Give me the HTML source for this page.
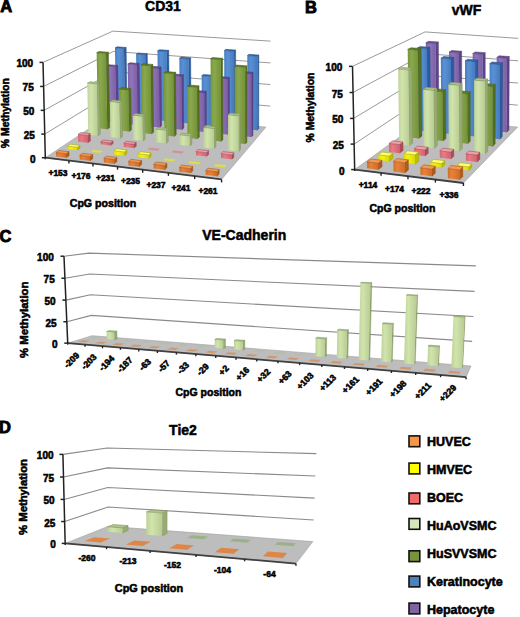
<!DOCTYPE html><html><head><meta charset="utf-8"><style>html,body{margin:0;padding:0;background:#fff;width:520px;height:617px;overflow:hidden}svg{display:block}</style></head><body><svg width="520" height="617" viewBox="0 0 520 617" font-family="'Liberation Sans', sans-serif">
<style>text{stroke:#000;stroke-width:0.55px}</style><defs><linearGradient id="g_or" x1="0" y1="0" x2="1" y2="0"><stop offset="0" stop-color="#D46F27"/><stop offset="0.35" stop-color="#E7823B"/><stop offset="1" stop-color="#CE6C25"/></linearGradient><linearGradient id="g_ye" x1="0" y1="0" x2="1" y2="0"><stop offset="0" stop-color="#E1E100"/><stop offset="0.35" stop-color="#F3F314"/><stop offset="1" stop-color="#D9D900"/></linearGradient><linearGradient id="g_pk" x1="0" y1="0" x2="1" y2="0"><stop offset="0" stop-color="#D76771"/><stop offset="0.35" stop-color="#E97A84"/><stop offset="1" stop-color="#D0636D"/></linearGradient><linearGradient id="g_lg" x1="0" y1="0" x2="1" y2="0"><stop offset="0" stop-color="#BDD298"/><stop offset="0.35" stop-color="#D0E4AB"/><stop offset="1" stop-color="#B7CB93"/></linearGradient><linearGradient id="g_gr" x1="0" y1="0" x2="1" y2="0"><stop offset="0" stop-color="#779639"/><stop offset="0.35" stop-color="#8AA94D"/><stop offset="1" stop-color="#739137"/></linearGradient><linearGradient id="g_bl" x1="0" y1="0" x2="1" y2="0"><stop offset="0" stop-color="#467EC3"/><stop offset="0.35" stop-color="#5A91D5"/><stop offset="1" stop-color="#447ABD"/></linearGradient><linearGradient id="g_pu" x1="0" y1="0" x2="1" y2="0"><stop offset="0" stop-color="#7D61A9"/><stop offset="0.35" stop-color="#9075BB"/><stop offset="1" stop-color="#795EA3"/></linearGradient></defs>
<rect width="520" height="617" fill="#fff"/>
<polyline points="44.78,134.10 113.88,91.96 270.28,106.10" fill="none" stroke="#9a9a9a" stroke-width="1.0"/>
<polyline points="44.20,110.34 113.56,71.78 270.36,84.56" fill="none" stroke="#9a9a9a" stroke-width="1.0"/>
<polyline points="43.61,86.44 113.24,51.49 270.43,62.91" fill="none" stroke="#9a9a9a" stroke-width="1.0"/>
<polyline points="43.02,62.40 112.91,31.11 270.51,41.14" fill="none" stroke="#9a9a9a" stroke-width="1.0"/>
<polygon points="45.36,157.71 221.58,179.41 266.03,127.11 114.20,112.04" fill="#BDBDBD" stroke="#a0a0a0" stroke-width="0.6"/>
<polyline points="45.36,157.71 221.58,179.41" fill="none" stroke="#404040" stroke-width="1.8"/>
<line x1="68.92" y1="160.61" x2="68.92" y2="163.61" stroke="#222" stroke-width="1.4"/>
<line x1="92.98" y1="163.58" x2="92.98" y2="166.58" stroke="#222" stroke-width="1.4"/>
<line x1="117.58" y1="166.60" x2="117.58" y2="169.60" stroke="#222" stroke-width="1.4"/>
<line x1="142.71" y1="169.70" x2="142.71" y2="172.70" stroke="#222" stroke-width="1.4"/>
<line x1="168.41" y1="172.86" x2="168.41" y2="175.86" stroke="#222" stroke-width="1.4"/>
<line x1="194.69" y1="176.10" x2="194.69" y2="179.10" stroke="#222" stroke-width="1.4"/>
<line x1="221.58" y1="179.41" x2="221.58" y2="182.41" stroke="#222" stroke-width="1.4"/>
<polygon points="124.97,116.92 127.15,115.40 126.19,47.42 123.98,48.54" fill="#2D5C9E" stroke="#24497E" stroke-width="0.4"/>
<polygon points="116.05,116.02 124.97,116.92 123.98,48.54 114.99,47.90" fill="url(#g_bl)"/>
<polygon points="114.99,47.90 123.98,48.54 126.19,47.42 117.24,46.79" fill="#3466A8" stroke="#264E86" stroke-width="0.5"/>
<polygon points="146.00,119.05 148.08,117.50 147.34,53.65 145.24,54.82" fill="#2D5C9E" stroke="#24497E" stroke-width="0.4"/>
<polygon points="136.92,118.13 146.00,119.05 145.24,54.82 136.09,54.15" fill="url(#g_bl)"/>
<polygon points="136.09,54.15 145.24,54.82 147.34,53.65 138.23,52.99" fill="#3466A8" stroke="#264E86" stroke-width="0.5"/>
<polygon points="167.43,121.21 169.39,119.63 168.77,50.33 166.78,51.50" fill="#2D5C9E" stroke="#24497E" stroke-width="0.4"/>
<polygon points="158.18,120.27 167.43,121.21 166.78,51.50 157.46,50.83" fill="url(#g_bl)"/>
<polygon points="157.46,50.83 166.78,51.50 168.77,50.33 159.49,49.68" fill="#3466A8" stroke="#264E86" stroke-width="0.5"/>
<polygon points="189.25,123.41 191.10,121.81 190.70,57.81 188.83,59.03" fill="#2D5C9E" stroke="#24497E" stroke-width="0.4"/>
<polygon points="179.83,122.46 189.25,123.41 188.83,59.03 179.33,58.33" fill="url(#g_bl)"/>
<polygon points="179.33,58.33 188.83,59.03 190.70,57.81 181.25,57.12" fill="#3466A8" stroke="#264E86" stroke-width="0.5"/>
<polygon points="211.49,125.66 213.22,124.03 213.05,75.15 211.31,76.49" fill="#2D5C9E" stroke="#24497E" stroke-width="0.4"/>
<polygon points="201.89,124.69 211.49,125.66 211.31,76.49 201.65,75.71" fill="url(#g_bl)"/>
<polygon points="201.65,75.71 211.31,76.49 213.05,75.15 203.44,74.39" fill="#3466A8" stroke="#264E86" stroke-width="0.5"/>
<polygon points="234.16,127.94 235.76,126.28 235.71,50.03 234.09,51.22" fill="#2D5C9E" stroke="#24497E" stroke-width="0.4"/>
<polygon points="224.37,126.96 234.16,127.94 234.09,51.22 224.21,50.54" fill="url(#g_bl)"/>
<polygon points="224.21,50.54 234.09,51.22 235.71,50.03 225.88,49.36" fill="#3466A8" stroke="#264E86" stroke-width="0.5"/>
<polygon points="257.26,130.28 258.74,128.58 258.89,55.02 257.41,56.26" fill="#2D5C9E" stroke="#24497E" stroke-width="0.4"/>
<polygon points="247.28,129.27 257.26,130.28 257.41,56.26 247.34,55.55" fill="url(#g_bl)"/>
<polygon points="247.34,55.55 257.41,56.26 258.89,55.02 248.88,54.32" fill="#3466A8" stroke="#264E86" stroke-width="0.5"/>
<polygon points="116.33,122.94 118.61,121.35 117.76,65.39 115.45,66.65" fill="#5E4489" stroke="#4B366D" stroke-width="0.4"/>
<polygon points="107.24,121.99 116.33,122.94 115.45,66.65 106.30,65.93" fill="url(#g_pu)"/>
<polygon points="106.30,65.93 115.45,66.65 117.76,65.39 108.65,64.68" fill="#664C94" stroke="#4F3974" stroke-width="0.5"/>
<polygon points="137.78,125.17 139.95,123.55 139.19,63.42 137.00,64.68" fill="#5E4489" stroke="#4B366D" stroke-width="0.4"/>
<polygon points="128.52,124.21 137.78,125.17 137.00,64.68 127.67,63.96" fill="url(#g_pu)"/>
<polygon points="127.67,63.96 137.00,64.68 139.19,63.42 129.91,62.71" fill="#664C94" stroke="#4F3974" stroke-width="0.5"/>
<polygon points="159.64,127.44 161.70,125.79 161.11,67.00 159.03,68.29" fill="#5E4489" stroke="#4B366D" stroke-width="0.4"/>
<polygon points="150.20,126.46 159.64,127.44 159.03,68.29 149.53,67.55" fill="url(#g_pu)"/>
<polygon points="149.53,67.55 159.03,68.29 161.11,67.00 151.66,66.26" fill="#664C94" stroke="#4F3974" stroke-width="0.5"/>
<polygon points="181.92,129.76 183.86,128.08 183.48,74.80 181.52,76.15" fill="#5E4489" stroke="#4B366D" stroke-width="0.4"/>
<polygon points="172.30,128.76 181.92,129.76 181.52,76.15 171.84,75.37" fill="url(#g_pu)"/>
<polygon points="171.84,75.37 181.52,76.15 183.48,74.80 173.84,74.02" fill="#664C94" stroke="#4F3974" stroke-width="0.5"/>
<polygon points="204.63,132.12 206.45,130.41 206.28,91.36 204.45,92.83" fill="#5E4489" stroke="#4B366D" stroke-width="0.4"/>
<polygon points="194.82,131.10 204.63,132.12 204.45,92.83 194.59,91.97" fill="url(#g_pu)"/>
<polygon points="194.59,91.97 204.45,92.83 206.28,91.36 196.47,90.51" fill="#664C94" stroke="#4F3974" stroke-width="0.5"/>
<polygon points="227.79,134.53 229.47,132.79 229.39,77.34 227.69,78.74" fill="#5E4489" stroke="#4B366D" stroke-width="0.4"/>
<polygon points="217.79,133.49 227.79,134.53 227.69,78.74 217.62,77.93" fill="url(#g_pu)"/>
<polygon points="217.62,77.93 227.69,78.74 229.39,77.34 219.38,76.54" fill="#664C94" stroke="#4F3974" stroke-width="0.5"/>
<polygon points="251.41,136.98 252.96,135.21 253.05,72.28 251.48,73.66" fill="#5E4489" stroke="#4B366D" stroke-width="0.4"/>
<polygon points="241.21,135.92 251.41,136.98 251.48,73.66 241.20,72.86" fill="url(#g_pu)"/>
<polygon points="241.20,72.86 251.48,73.66 253.05,72.28 242.82,71.49" fill="#664C94" stroke="#4F3974" stroke-width="0.5"/>
<polygon points="107.27,129.25 109.67,127.58 108.43,52.17 106.00,53.38" fill="#546F20" stroke="#435819" stroke-width="0.4"/>
<polygon points="98.00,128.25 107.27,129.25 106.00,53.38 96.65,52.69" fill="url(#g_gr)"/>
<polygon points="96.65,52.69 106.00,53.38 108.43,52.17 99.12,51.49" fill="#5F7D28" stroke="#475E1B" stroke-width="0.5"/>
<polygon points="129.15,131.59 131.44,129.89 130.87,88.42 128.57,89.87" fill="#546F20" stroke="#435819" stroke-width="0.4"/>
<polygon points="119.70,130.58 129.15,131.59 128.57,89.87 119.07,89.02" fill="url(#g_gr)"/>
<polygon points="119.07,89.02 128.57,89.87 130.87,88.42 121.42,87.59" fill="#5F7D28" stroke="#475E1B" stroke-width="0.5"/>
<polygon points="151.47,133.98 153.63,132.25 152.89,64.41 150.70,65.72" fill="#546F20" stroke="#435819" stroke-width="0.4"/>
<polygon points="141.83,132.95 151.47,133.98 150.70,65.72 140.99,64.96" fill="url(#g_gr)"/>
<polygon points="140.99,64.96 150.70,65.72 152.89,64.41 143.22,63.66" fill="#5F7D28" stroke="#475E1B" stroke-width="0.5"/>
<polygon points="174.22,136.42 176.26,134.66 175.75,72.29 173.69,73.67" fill="#546F20" stroke="#435819" stroke-width="0.4"/>
<polygon points="164.39,135.37 174.22,136.42 173.69,73.67 163.79,72.87" fill="url(#g_gr)"/>
<polygon points="163.79,72.87 173.69,73.67 175.75,72.29 165.90,71.51" fill="#5F7D28" stroke="#475E1B" stroke-width="0.5"/>
<polygon points="197.43,138.91 199.33,137.11 199.06,85.87 197.14,87.34" fill="#546F20" stroke="#435819" stroke-width="0.4"/>
<polygon points="187.40,137.84 197.43,138.91 197.14,87.34 187.06,86.48" fill="url(#g_gr)"/>
<polygon points="187.06,86.48 197.14,87.34 199.06,85.87 189.03,85.02" fill="#5F7D28" stroke="#475E1B" stroke-width="0.5"/>
<polygon points="221.10,141.45 222.87,139.62 222.68,58.25 220.89,59.56" fill="#546F20" stroke="#435819" stroke-width="0.4"/>
<polygon points="210.87,140.35 221.10,141.45 220.89,59.56 210.56,58.81" fill="url(#g_gr)"/>
<polygon points="210.56,58.81 220.89,59.56 222.68,58.25 212.41,57.51" fill="#5F7D28" stroke="#475E1B" stroke-width="0.5"/>
<polygon points="245.25,144.04 246.88,142.17 246.93,65.87 245.29,67.25" fill="#546F20" stroke="#435819" stroke-width="0.4"/>
<polygon points="234.82,142.92 245.25,144.04 245.29,67.25 234.75,66.45" fill="url(#g_gr)"/>
<polygon points="234.75,66.45 245.29,67.25 246.93,65.87 236.46,65.09" fill="#5F7D28" stroke="#475E1B" stroke-width="0.5"/>
<polygon points="97.76,135.87 100.28,134.12 99.37,82.54 96.83,83.97" fill="#97AC72" stroke="#78895B" stroke-width="0.4"/>
<polygon points="88.30,134.82 97.76,135.87 96.83,83.97 87.31,83.14" fill="url(#g_lg)"/>
<polygon points="87.31,83.14 96.83,83.97 99.37,82.54 89.90,81.72" fill="#ACC28A" stroke="#809260" stroke-width="0.5"/>
<polygon points="120.10,138.34 122.50,136.55 121.97,100.82 119.56,102.38" fill="#97AC72" stroke="#78895B" stroke-width="0.4"/>
<polygon points="110.45,137.27 120.10,138.34 119.56,102.38 109.87,101.46" fill="url(#g_lg)"/>
<polygon points="109.87,101.46 119.56,102.38 121.97,100.82 112.33,99.91" fill="#ACC28A" stroke="#809260" stroke-width="0.5"/>
<polygon points="142.88,140.86 145.16,139.04 144.86,114.49 142.58,116.15" fill="#97AC72" stroke="#78895B" stroke-width="0.4"/>
<polygon points="133.04,139.77 142.88,140.86 142.58,116.15 132.71,115.16" fill="url(#g_lg)"/>
<polygon points="132.71,115.16 142.58,116.15 144.86,114.49 135.05,113.51" fill="#ACC28A" stroke="#809260" stroke-width="0.5"/>
<polygon points="166.13,143.43 168.27,141.57 168.15,128.48 166.01,130.25" fill="#97AC72" stroke="#78895B" stroke-width="0.4"/>
<polygon points="156.09,142.32 166.13,143.43 166.01,130.25 155.95,129.19" fill="url(#g_lg)"/>
<polygon points="155.95,129.19 166.01,130.25 168.15,128.48 158.15,127.44" fill="#ACC28A" stroke="#809260" stroke-width="0.5"/>
<polygon points="189.85,146.05 191.86,144.16 191.79,134.11 189.79,135.94" fill="#97AC72" stroke="#78895B" stroke-width="0.4"/>
<polygon points="179.60,144.92 189.85,146.05 189.79,135.94 179.53,134.84" fill="url(#g_lg)"/>
<polygon points="179.53,134.84 189.79,135.94 191.79,134.11 181.59,133.03" fill="#ACC28A" stroke="#809260" stroke-width="0.5"/>
<polygon points="214.06,148.73 215.93,146.80 215.86,126.75 213.99,128.55" fill="#97AC72" stroke="#78895B" stroke-width="0.4"/>
<polygon points="203.60,147.57 214.06,148.73 213.99,128.55 203.51,127.48" fill="url(#g_lg)"/>
<polygon points="203.51,127.48 213.99,128.55 215.86,126.75 205.44,125.69" fill="#ACC28A" stroke="#809260" stroke-width="0.5"/>
<polygon points="238.78,151.46 240.49,149.49 240.49,114.01 238.76,115.74" fill="#97AC72" stroke="#78895B" stroke-width="0.4"/>
<polygon points="228.10,150.28 238.78,151.46 238.76,115.74 228.04,114.72" fill="url(#g_lg)"/>
<polygon points="228.04,114.72 238.76,115.74 240.49,114.01 229.83,113.00" fill="#ACC28A" stroke="#809260" stroke-width="0.5"/>
<polygon points="87.77,142.82 90.42,140.98 90.28,133.67 87.63,135.46" fill="#B04C58" stroke="#8C3C46" stroke-width="0.4"/>
<polygon points="78.12,141.72 87.77,142.82 87.63,135.46 77.97,134.39" fill="url(#g_pk)"/>
<polygon points="77.97,134.39 87.63,135.46 90.28,133.67 80.67,132.61" fill="#F2A0A8" stroke="#95404A" stroke-width="0.5"/>
<polygon points="110.58,145.43 113.10,143.55 113.06,141.03 110.54,142.89" fill="#B04C58" stroke="#8C3C46" stroke-width="0.4"/>
<polygon points="100.73,144.30 110.58,145.43 110.54,142.89 100.68,141.78" fill="url(#g_pk)"/>
<polygon points="100.68,141.78 110.54,142.89 113.06,141.03 103.26,139.93" fill="#F2A0A8" stroke="#95404A" stroke-width="0.5"/>
<polygon points="133.86,148.08 136.25,146.17 136.20,142.44 133.81,144.33" fill="#B04C58" stroke="#8C3C46" stroke-width="0.4"/>
<polygon points="123.80,146.94 133.86,148.08 133.81,144.33 123.75,143.20" fill="url(#g_pk)"/>
<polygon points="123.75,143.20 133.81,144.33 136.20,142.44 126.20,141.33" fill="#F2A0A8" stroke="#95404A" stroke-width="0.5"/>
<polygon points="147.35,149.62 157.62,150.80 159.87,148.84 149.67,147.69" fill="#E86F7A" opacity="0.6"/>
<polygon points="171.39,152.37 181.87,153.57 183.99,151.57 173.57,150.39" fill="#E86F7A" opacity="0.6"/>
<polygon points="206.65,156.39 208.61,154.36 208.60,150.71 206.63,152.71" fill="#B04C58" stroke="#8C3C46" stroke-width="0.4"/>
<polygon points="195.94,155.17 206.65,156.39 206.63,152.71 195.92,151.51" fill="url(#g_pk)"/>
<polygon points="195.92,151.51 206.63,152.71 208.60,150.71 197.95,149.52" fill="#F2A0A8" stroke="#95404A" stroke-width="0.5"/>
<polygon points="231.95,159.28 233.76,157.21 233.75,152.85 231.94,154.90" fill="#B04C58" stroke="#8C3C46" stroke-width="0.4"/>
<polygon points="221.01,158.03 231.95,159.28 231.94,154.90 221.00,153.67" fill="url(#g_pk)"/>
<polygon points="221.00,153.67 231.94,154.90 233.75,152.85 222.88,151.64" fill="#F2A0A8" stroke="#95404A" stroke-width="0.5"/>
<polygon points="77.26,150.14 80.05,148.20 79.99,145.37 77.21,147.29" fill="#BDBD00" stroke="#979700" stroke-width="0.4"/>
<polygon points="67.40,148.98 77.26,150.14 77.21,147.29 67.34,146.14" fill="url(#g_ye)"/>
<polygon points="67.34,146.14 77.21,147.29 79.99,145.37 70.18,144.23" fill="#FFFF70" stroke="#A0A000" stroke-width="0.5"/>
<polygon points="90.50,151.70 100.56,152.89 103.22,150.91 93.21,149.74" fill="#F2F200" opacity="0.6"/>
<polygon points="124.35,155.70 126.87,153.68 126.82,149.95 124.30,151.94" fill="#BDBD00" stroke="#979700" stroke-width="0.4"/>
<polygon points="114.07,154.48 124.35,155.70 124.30,151.94 114.01,150.75" fill="url(#g_ye)"/>
<polygon points="114.01,150.75 124.30,151.94 126.82,149.95 116.59,148.77" fill="#FFFF70" stroke="#A0A000" stroke-width="0.5"/>
<polygon points="148.65,158.56 151.02,156.50 150.98,152.92 148.61,154.96" fill="#BDBD00" stroke="#979700" stroke-width="0.4"/>
<polygon points="138.15,157.32 148.65,158.56 148.61,154.96 138.10,153.74" fill="url(#g_ye)"/>
<polygon points="138.10,153.74 148.61,154.96 150.98,152.92 140.54,151.72" fill="#FFFF70" stroke="#A0A000" stroke-width="0.5"/>
<polygon points="162.74,160.22 173.47,161.49 175.70,159.39 165.03,158.14" fill="#F2F200" opacity="0.6"/>
<polygon points="187.87,163.19 198.83,164.48 200.90,162.34 190.01,161.06" fill="#F2F200" opacity="0.6"/>
<polygon points="213.54,166.22 224.74,167.54 226.65,165.35 215.52,164.05" fill="#F2F200" opacity="0.6"/>
<polygon points="66.19,157.85 69.13,155.81 69.04,151.68 66.10,153.70" fill="#B35A18" stroke="#8F4813" stroke-width="0.4"/>
<polygon points="56.12,156.62 66.19,157.85 66.10,153.70 56.03,152.49" fill="url(#g_or)"/>
<polygon points="56.03,152.49 66.10,153.70 69.04,151.68 59.02,150.49" fill="#F39A50" stroke="#984C14" stroke-width="0.5"/>
<polygon points="90.00,160.75 92.80,158.67 92.72,154.50 89.92,156.56" fill="#B35A18" stroke="#8F4813" stroke-width="0.4"/>
<polygon points="79.71,159.50 90.00,160.75 89.92,156.56 79.63,155.32" fill="url(#g_or)"/>
<polygon points="79.63,155.32 89.92,156.56 92.72,154.50 82.49,153.28" fill="#F39A50" stroke="#984C14" stroke-width="0.5"/>
<polygon points="114.33,163.72 116.98,161.59 116.92,157.38 114.26,159.48" fill="#B35A18" stroke="#8F4813" stroke-width="0.4"/>
<polygon points="103.81,162.44 114.33,163.72 114.26,159.48 103.74,158.22" fill="url(#g_or)"/>
<polygon points="103.74,158.22 114.26,159.48 116.92,157.38 106.46,156.14" fill="#F39A50" stroke="#984C14" stroke-width="0.5"/>
<polygon points="139.18,166.76 141.69,164.58 141.64,160.62 139.13,162.76" fill="#B35A18" stroke="#8F4813" stroke-width="0.4"/>
<polygon points="128.44,165.44 139.18,166.76 139.13,162.76 128.38,161.47" fill="url(#g_or)"/>
<polygon points="128.38,161.47 139.13,162.76 141.64,160.62 130.96,159.35" fill="#F39A50" stroke="#984C14" stroke-width="0.5"/>
<polygon points="164.59,169.86 166.94,167.64 166.90,163.34 164.55,165.53" fill="#B35A18" stroke="#8F4813" stroke-width="0.4"/>
<polygon points="153.61,168.52 164.59,169.86 164.55,165.53 153.56,164.21" fill="url(#g_or)"/>
<polygon points="153.56,164.21 164.55,165.53 166.90,163.34 155.98,162.04" fill="#F39A50" stroke="#984C14" stroke-width="0.5"/>
<polygon points="190.56,173.03 192.76,170.76 192.73,166.41 190.54,168.65" fill="#B35A18" stroke="#8F4813" stroke-width="0.4"/>
<polygon points="179.34,171.66 190.56,173.03 190.54,168.65 179.30,167.30" fill="url(#g_or)"/>
<polygon points="179.30,167.30 190.54,168.65 192.73,166.41 181.57,165.08" fill="#F39A50" stroke="#984C14" stroke-width="0.5"/>
<polygon points="217.13,176.27 219.15,173.95 219.14,169.56 217.11,171.84" fill="#B35A18" stroke="#8F4813" stroke-width="0.4"/>
<polygon points="205.64,174.87 217.13,176.27 217.11,171.84 205.62,170.46" fill="url(#g_or)"/>
<polygon points="205.62,170.46 217.11,171.84 219.14,169.56 207.72,168.20" fill="#F39A50" stroke="#984C14" stroke-width="0.5"/>
<line x1="45.36" y1="159.21" x2="43.02" y2="62.40" stroke="#222" stroke-width="1.5"/>
<line x1="41.86" y1="157.71" x2="45.36" y2="157.71" stroke="#222" stroke-width="1.5"/>
<line x1="41.28" y1="134.10" x2="44.78" y2="134.10" stroke="#222" stroke-width="1.5"/>
<line x1="40.70" y1="110.34" x2="44.20" y2="110.34" stroke="#222" stroke-width="1.5"/>
<line x1="40.11" y1="86.44" x2="43.61" y2="86.44" stroke="#222" stroke-width="1.5"/>
<line x1="39.52" y1="62.40" x2="43.02" y2="62.40" stroke="#222" stroke-width="1.5"/>
<polyline points="354.15,144.11 425.72,96.58 517.84,105.17" fill="none" stroke="#9a9a9a" stroke-width="1.0"/>
<polyline points="353.60,118.42 425.52,75.18 517.98,83.07" fill="none" stroke="#9a9a9a" stroke-width="1.0"/>
<polyline points="353.05,92.50 425.33,53.62 518.12,60.80" fill="none" stroke="#9a9a9a" stroke-width="1.0"/>
<polyline points="352.50,66.36 425.13,31.91 518.26,38.37" fill="none" stroke="#9a9a9a" stroke-width="1.0"/>
<polygon points="354.69,169.58 463.45,183.00 517.70,127.11 425.91,117.83" fill="#BDBDBD" stroke="#a0a0a0" stroke-width="0.6"/>
<polyline points="354.69,169.58 463.45,183.00" fill="none" stroke="#404040" stroke-width="1.8"/>
<line x1="381.07" y1="172.84" x2="381.07" y2="175.84" stroke="#222" stroke-width="1.4"/>
<line x1="407.97" y1="176.16" x2="407.97" y2="179.16" stroke="#222" stroke-width="1.4"/>
<line x1="435.43" y1="179.54" x2="435.43" y2="182.54" stroke="#222" stroke-width="1.4"/>
<line x1="463.45" y1="183.00" x2="463.45" y2="186.00" stroke="#222" stroke-width="1.4"/>
<polygon points="436.14,125.05 438.96,122.87 438.40,41.97 435.54,43.47" fill="#5E4489" stroke="#4B366D" stroke-width="0.4"/>
<polygon points="426.49,124.05 436.14,125.05 435.54,43.47 425.76,42.75" fill="url(#g_pu)"/>
<polygon points="425.76,42.75 435.54,43.47 438.40,41.97 428.70,41.26" fill="#664C94" stroke="#4F3974" stroke-width="0.5"/>
<polygon points="459.24,127.43 461.89,125.22 461.66,51.25 458.98,52.84" fill="#5E4489" stroke="#4B366D" stroke-width="0.4"/>
<polygon points="449.43,126.42 459.24,127.43 458.98,52.84 449.05,52.08" fill="url(#g_pu)"/>
<polygon points="449.05,52.08 458.98,52.84 461.66,51.25 451.81,50.50" fill="#664C94" stroke="#4F3974" stroke-width="0.5"/>
<polygon points="482.75,129.86 485.21,127.61 485.28,52.67 482.78,54.29" fill="#5E4489" stroke="#4B366D" stroke-width="0.4"/>
<polygon points="472.77,128.83 482.75,129.86 482.78,54.29 472.68,53.52" fill="url(#g_pu)"/>
<polygon points="472.68,53.52 482.78,54.29 485.28,52.67 475.25,51.91" fill="#664C94" stroke="#4F3974" stroke-width="0.5"/>
<polygon points="506.65,132.33 508.93,130.04 509.29,56.56 506.99,58.23" fill="#5E4489" stroke="#4B366D" stroke-width="0.4"/>
<polygon points="496.50,131.28 506.65,132.33 506.99,58.23 496.71,57.44" fill="url(#g_pu)"/>
<polygon points="496.71,57.44 506.99,58.23 509.29,56.56 499.09,55.79" fill="#664C94" stroke="#4F3974" stroke-width="0.5"/>
<polygon points="427.71,131.54 430.67,129.26 429.99,47.28 426.98,48.87" fill="#2D5C9E" stroke="#24497E" stroke-width="0.4"/>
<polygon points="417.85,130.50 427.71,131.54 426.98,48.87 416.99,48.12" fill="url(#g_bl)"/>
<polygon points="416.99,48.12 426.98,48.87 429.99,47.28 420.08,46.54" fill="#3466A8" stroke="#264E86" stroke-width="0.5"/>
<polygon points="451.33,134.05 454.12,131.72 453.79,57.30 450.97,58.98" fill="#2D5C9E" stroke="#24497E" stroke-width="0.4"/>
<polygon points="441.30,132.98 451.33,134.05 450.97,58.98 440.81,58.19" fill="url(#g_bl)"/>
<polygon points="440.81,58.19 450.97,58.98 453.79,57.30 443.71,56.51" fill="#3466A8" stroke="#264E86" stroke-width="0.5"/>
<polygon points="475.37,136.60 477.97,134.23 477.94,60.01 475.32,61.73" fill="#2D5C9E" stroke="#24497E" stroke-width="0.4"/>
<polygon points="465.16,135.51 475.37,136.60 475.32,61.73 464.98,60.92" fill="url(#g_bl)"/>
<polygon points="464.98,60.92 475.32,61.73 477.94,60.01 467.69,59.21" fill="#3466A8" stroke="#264E86" stroke-width="0.5"/>
<polygon points="499.84,139.19 502.24,136.78 502.52,62.77 500.09,64.53" fill="#2D5C9E" stroke="#24497E" stroke-width="0.4"/>
<polygon points="489.45,138.09 499.84,139.19 500.09,64.53 489.57,63.70" fill="url(#g_bl)"/>
<polygon points="489.57,63.70 500.09,64.53 502.52,62.77 492.08,61.95" fill="#3466A8" stroke="#264E86" stroke-width="0.5"/>
<polygon points="418.84,138.38 421.96,135.97 421.11,48.50 417.93,50.14" fill="#546F20" stroke="#435819" stroke-width="0.4"/>
<polygon points="408.76,137.28 418.84,138.38 417.93,50.14 407.70,49.36" fill="url(#g_gr)"/>
<polygon points="407.70,49.36 417.93,50.14 421.11,48.50 410.96,47.73" fill="#5F7D28" stroke="#475E1B" stroke-width="0.5"/>
<polygon points="443.01,141.01 445.94,138.56 445.66,89.67 442.70,91.70" fill="#546F20" stroke="#435819" stroke-width="0.4"/>
<polygon points="432.74,139.89 443.01,141.01 442.70,91.70 432.35,90.76" fill="url(#g_gr)"/>
<polygon points="432.35,90.76 442.70,91.70 445.66,89.67 435.39,88.75" fill="#5F7D28" stroke="#475E1B" stroke-width="0.5"/>
<polygon points="467.61,143.69 470.34,141.19 470.26,91.79 467.51,93.85" fill="#546F20" stroke="#435819" stroke-width="0.4"/>
<polygon points="457.16,142.55 467.61,143.69 467.51,93.85 456.97,92.90" fill="url(#g_gr)"/>
<polygon points="456.97,92.90 467.51,93.85 470.26,91.79 459.81,90.85" fill="#5F7D28" stroke="#475E1B" stroke-width="0.5"/>
<polygon points="492.66,146.42 495.19,143.87 495.34,84.40 492.79,86.41" fill="#546F20" stroke="#435819" stroke-width="0.4"/>
<polygon points="482.02,145.26 492.66,146.42 492.79,86.41 482.04,85.48" fill="url(#g_gr)"/>
<polygon points="482.04,85.48 492.79,86.41 495.34,84.40 484.68,83.48" fill="#5F7D28" stroke="#475E1B" stroke-width="0.5"/>
<polygon points="409.50,145.58 412.79,143.04 411.94,68.12 408.60,69.98" fill="#97AC72" stroke="#78895B" stroke-width="0.4"/>
<polygon points="399.18,144.42 409.50,145.58 408.60,69.98 398.15,69.10" fill="url(#g_lg)"/>
<polygon points="398.15,69.10 408.60,69.98 411.94,68.12 401.58,67.25" fill="#ACC28A" stroke="#809260" stroke-width="0.5"/>
<polygon points="434.23,148.35 437.32,145.76 436.91,88.28 433.78,90.35" fill="#97AC72" stroke="#78895B" stroke-width="0.4"/>
<polygon points="423.72,147.17 434.23,148.35 433.78,90.35 423.18,89.38" fill="url(#g_lg)"/>
<polygon points="423.18,89.38 433.78,90.35 436.91,88.28 426.39,87.33" fill="#ACC28A" stroke="#809260" stroke-width="0.5"/>
<polygon points="459.42,151.17 462.31,148.53 462.11,83.21 459.19,85.25" fill="#97AC72" stroke="#78895B" stroke-width="0.4"/>
<polygon points="448.72,149.97 459.42,151.17 459.19,85.25 448.38,84.30" fill="url(#g_lg)"/>
<polygon points="448.38,84.30 459.19,85.25 462.11,83.21 451.38,82.28" fill="#ACC28A" stroke="#809260" stroke-width="0.5"/>
<polygon points="485.09,154.04 487.75,151.36 487.85,79.02 485.15,81.04" fill="#97AC72" stroke="#78895B" stroke-width="0.4"/>
<polygon points="474.18,152.82 485.09,154.04 485.15,81.04 474.11,80.10" fill="url(#g_lg)"/>
<polygon points="474.11,80.10 485.15,81.04 487.85,79.02 476.91,78.09" fill="#ACC28A" stroke="#809260" stroke-width="0.5"/>
<polygon points="399.64,153.18 403.11,150.50 403.00,142.01 399.52,144.61" fill="#B04C58" stroke="#8C3C46" stroke-width="0.4"/>
<polygon points="389.08,151.96 399.64,153.18 399.52,144.61 388.95,143.43" fill="url(#g_pk)"/>
<polygon points="388.95,143.43 399.52,144.61 403.00,142.01 392.51,140.85" fill="#F2A0A8" stroke="#95404A" stroke-width="0.5"/>
<polygon points="424.97,156.09 428.23,153.37 428.18,147.31 424.91,149.98" fill="#B04C58" stroke="#8C3C46" stroke-width="0.4"/>
<polygon points="414.21,154.85 424.97,156.09 424.91,149.98 414.14,148.76" fill="url(#g_pk)"/>
<polygon points="414.14,148.76 424.91,149.98 428.18,147.31 417.50,146.11" fill="#F2A0A8" stroke="#95404A" stroke-width="0.5"/>
<polygon points="450.78,159.07 453.82,156.28 453.79,149.39 450.74,152.11" fill="#B04C58" stroke="#8C3C46" stroke-width="0.4"/>
<polygon points="439.81,157.80 450.78,159.07 450.74,152.11 439.76,150.88" fill="url(#g_pk)"/>
<polygon points="439.76,150.88 450.74,152.11 453.79,149.39 442.91,148.18" fill="#F2A0A8" stroke="#95404A" stroke-width="0.5"/>
<polygon points="477.08,162.10 479.90,159.26 479.90,152.31 477.08,155.08" fill="#B04C58" stroke="#8C3C46" stroke-width="0.4"/>
<polygon points="465.91,160.81 477.08,162.10 477.08,155.08 465.89,153.82" fill="url(#g_pk)"/>
<polygon points="465.89,153.82 477.08,155.08 479.90,152.31 468.81,151.07" fill="#F2A0A8" stroke="#95404A" stroke-width="0.5"/>
<polygon points="389.22,161.20 392.89,158.38 392.82,153.29 389.15,156.07" fill="#BDBD00" stroke="#979700" stroke-width="0.4"/>
<polygon points="378.41,159.92 389.22,161.20 389.15,156.07 378.32,154.80" fill="url(#g_ye)"/>
<polygon points="378.32,154.80 389.15,156.07 392.82,153.29 382.08,152.05" fill="#FFFF70" stroke="#A0A000" stroke-width="0.5"/>
<polygon points="415.17,164.28 418.63,161.40 418.53,152.11 415.07,154.91" fill="#BDBD00" stroke="#979700" stroke-width="0.4"/>
<polygon points="404.15,162.97 415.17,164.28 415.07,154.91 404.03,153.63" fill="url(#g_ye)"/>
<polygon points="404.03,153.63 415.07,154.91 418.53,152.11 407.58,150.86" fill="#FFFF70" stroke="#A0A000" stroke-width="0.5"/>
<polygon points="441.63,167.42 444.86,164.48 444.83,160.69 441.61,163.60" fill="#BDBD00" stroke="#979700" stroke-width="0.4"/>
<polygon points="430.39,166.09 441.63,167.42 441.61,163.60 430.36,162.28" fill="url(#g_ye)"/>
<polygon points="430.36,162.28 441.61,163.60 444.83,160.69 433.68,159.40" fill="#FFFF70" stroke="#A0A000" stroke-width="0.5"/>
<polygon points="468.62,170.62 471.60,167.62 471.60,164.00 468.61,166.97" fill="#BDBD00" stroke="#979700" stroke-width="0.4"/>
<polygon points="457.15,169.26 468.62,170.62 468.61,166.97 457.14,165.62" fill="url(#g_ye)"/>
<polygon points="457.14,165.62 468.61,166.97 471.60,164.00 460.22,162.68" fill="#FFFF70" stroke="#A0A000" stroke-width="0.5"/>
<polygon points="378.20,169.70 382.09,166.70 381.98,160.27 378.09,163.20" fill="#B35A18" stroke="#8F4813" stroke-width="0.4"/>
<polygon points="367.12,168.34 378.20,169.70 378.09,163.20 367.00,161.87" fill="url(#g_or)"/>
<polygon points="367.00,161.87 378.09,163.20 381.98,160.27 370.98,158.96" fill="#F39A50" stroke="#984C14" stroke-width="0.5"/>
<polygon points="404.81,172.95 408.46,169.90 408.34,159.84 404.68,162.80" fill="#B35A18" stroke="#8F4813" stroke-width="0.4"/>
<polygon points="393.50,171.57 404.81,172.95 404.68,162.80 393.35,161.46" fill="url(#g_or)"/>
<polygon points="393.35,161.46 404.68,162.80 408.34,159.84 397.11,158.52" fill="#F39A50" stroke="#984C14" stroke-width="0.5"/>
<polygon points="431.95,176.27 435.36,173.15 435.31,166.18 431.89,169.24" fill="#B35A18" stroke="#8F4813" stroke-width="0.4"/>
<polygon points="420.41,174.86 431.95,176.27 431.89,169.24 420.34,167.85" fill="url(#g_or)"/>
<polygon points="420.34,167.85 431.89,169.24 435.31,166.18 423.86,164.83" fill="#F39A50" stroke="#984C14" stroke-width="0.5"/>
<polygon points="459.64,179.66 462.81,176.47 462.78,166.85 459.61,169.94" fill="#B35A18" stroke="#8F4813" stroke-width="0.4"/>
<polygon points="447.87,178.22 459.64,179.66 459.61,169.94 447.82,168.54" fill="url(#g_or)"/>
<polygon points="447.82,168.54 459.61,169.94 462.78,166.85 451.10,165.47" fill="#F39A50" stroke="#984C14" stroke-width="0.5"/>
<line x1="354.69" y1="171.08" x2="352.50" y2="66.36" stroke="#222" stroke-width="1.5"/>
<line x1="351.19" y1="169.58" x2="354.69" y2="169.58" stroke="#222" stroke-width="1.5"/>
<line x1="350.65" y1="144.11" x2="354.15" y2="144.11" stroke="#222" stroke-width="1.5"/>
<line x1="350.10" y1="118.42" x2="353.60" y2="118.42" stroke="#222" stroke-width="1.5"/>
<line x1="349.55" y1="92.50" x2="353.05" y2="92.50" stroke="#222" stroke-width="1.5"/>
<line x1="349.00" y1="66.36" x2="352.50" y2="66.36" stroke="#222" stroke-width="1.5"/>
<polyline points="66.84,321.72 91.29,315.35 472.15,341.41" fill="none" stroke="#8a8a8a" stroke-width="1.1"/>
<polyline points="65.90,300.09 90.51,294.81 473.37,316.52" fill="none" stroke="#8a8a8a" stroke-width="1.1"/>
<polyline points="64.94,278.26 89.72,274.07 474.60,291.35" fill="none" stroke="#8a8a8a" stroke-width="1.1"/>
<polyline points="63.98,256.21 88.92,253.15 475.84,265.89" fill="none" stroke="#8a8a8a" stroke-width="1.1"/>
<polygon points="67.78,343.13 466.09,377.16 470.95,366.01 92.07,335.69" fill="#BDBDBD" stroke="#a0a0a0" stroke-width="0.6"/>
<polyline points="67.78,343.13 466.09,377.16" fill="none" stroke="#404040" stroke-width="1.8"/>
<line x1="84.98" y1="344.60" x2="84.98" y2="346.80" stroke="#222" stroke-width="1.4"/>
<line x1="102.53" y1="346.10" x2="102.53" y2="348.30" stroke="#222" stroke-width="1.4"/>
<line x1="120.44" y1="347.63" x2="120.44" y2="349.83" stroke="#222" stroke-width="1.4"/>
<line x1="138.72" y1="349.19" x2="138.72" y2="351.39" stroke="#222" stroke-width="1.4"/>
<line x1="157.37" y1="350.78" x2="157.37" y2="352.98" stroke="#222" stroke-width="1.4"/>
<line x1="176.42" y1="352.41" x2="176.42" y2="354.61" stroke="#222" stroke-width="1.4"/>
<line x1="195.87" y1="354.07" x2="195.87" y2="356.27" stroke="#222" stroke-width="1.4"/>
<line x1="215.73" y1="355.77" x2="215.73" y2="357.97" stroke="#222" stroke-width="1.4"/>
<line x1="236.03" y1="357.50" x2="236.03" y2="359.70" stroke="#222" stroke-width="1.4"/>
<line x1="256.77" y1="359.27" x2="256.77" y2="361.47" stroke="#222" stroke-width="1.4"/>
<line x1="277.97" y1="361.09" x2="277.97" y2="363.29" stroke="#222" stroke-width="1.4"/>
<line x1="299.64" y1="362.94" x2="299.64" y2="365.14" stroke="#222" stroke-width="1.4"/>
<line x1="321.80" y1="364.83" x2="321.80" y2="367.03" stroke="#222" stroke-width="1.4"/>
<line x1="344.47" y1="366.77" x2="344.47" y2="368.97" stroke="#222" stroke-width="1.4"/>
<line x1="367.67" y1="368.75" x2="367.67" y2="370.95" stroke="#222" stroke-width="1.4"/>
<line x1="391.41" y1="370.78" x2="391.41" y2="372.98" stroke="#222" stroke-width="1.4"/>
<line x1="415.71" y1="372.86" x2="415.71" y2="375.06" stroke="#222" stroke-width="1.4"/>
<line x1="440.60" y1="374.98" x2="440.60" y2="377.18" stroke="#222" stroke-width="1.4"/>
<line x1="466.09" y1="377.16" x2="466.09" y2="379.36" stroke="#222" stroke-width="1.4"/>
<polygon points="89.20,338.15 96.63,338.75 101.13,337.33 93.75,336.74" fill="#A8B890" opacity="0.3"/>
<polygon points="114.42,339.86 117.15,338.96 116.90,331.16 114.16,332.01" fill="#97AC72" stroke="#78895B" stroke-width="0.4"/>
<polygon points="106.85,339.25 114.42,339.86 114.16,332.01 106.58,331.43" fill="url(#g_lg)"/>
<polygon points="106.58,331.43 114.16,332.01 116.90,331.16 109.35,330.58" fill="#ACC28A" stroke="#809260" stroke-width="0.5"/>
<polygon points="123.16,340.92 130.89,341.55 135.12,340.07 127.45,339.45" fill="#A8B890" opacity="0.3"/>
<polygon points="140.64,342.34 148.52,342.98 152.61,341.48 144.79,340.85" fill="#A8B890" opacity="0.3"/>
<polygon points="158.46,343.79 166.50,344.45 170.45,342.92 162.47,342.27" fill="#A8B890" opacity="0.3"/>
<polygon points="176.65,345.28 184.85,345.95 188.64,344.38 180.50,343.73" fill="#A8B890" opacity="0.3"/>
<polygon points="195.20,346.79 203.57,347.47 207.19,345.87 198.90,345.21" fill="#A8B890" opacity="0.3"/>
<polygon points="223.32,348.72 225.48,347.70 225.42,339.09 223.25,340.05" fill="#97AC72" stroke="#78895B" stroke-width="0.4"/>
<polygon points="214.79,348.03 223.32,348.72 223.25,340.05 214.71,339.40" fill="url(#g_lg)"/>
<polygon points="214.71,339.40 223.25,340.05 225.42,339.09 216.92,338.44" fill="#ACC28A" stroke="#809260" stroke-width="0.5"/>
<polygon points="242.79,350.31 244.84,349.27 244.81,340.30 242.75,341.28" fill="#97AC72" stroke="#78895B" stroke-width="0.4"/>
<polygon points="234.08,349.60 242.79,350.31 242.75,341.28 234.03,340.61" fill="url(#g_lg)"/>
<polygon points="234.03,340.61 242.75,341.28 244.81,340.30 236.14,339.64" fill="#ACC28A" stroke="#809260" stroke-width="0.5"/>
<polygon points="253.17,351.52 262.07,352.24 265.17,350.54 256.35,349.83" fill="#A8B890" opacity="0.3"/>
<polygon points="273.30,353.16 282.40,353.90 285.30,352.17 276.30,351.44" fill="#A8B890" opacity="0.3"/>
<polygon points="293.87,354.84 303.16,355.59 305.86,353.82 296.66,353.08" fill="#A8B890" opacity="0.3"/>
<polygon points="324.84,356.98 326.40,355.85 326.68,337.88 325.11,338.89" fill="#97AC72" stroke="#78895B" stroke-width="0.4"/>
<polygon points="315.37,356.21 324.84,356.98 325.11,338.89 315.60,338.20" fill="url(#g_lg)"/>
<polygon points="315.60,338.20 325.11,338.89 326.68,337.88 317.22,337.20" fill="#ACC28A" stroke="#809260" stroke-width="0.5"/>
<polygon points="346.47,358.74 347.89,357.58 348.46,329.82 347.03,330.78" fill="#97AC72" stroke="#78895B" stroke-width="0.4"/>
<polygon points="336.79,357.95 346.47,358.74 347.03,330.78 337.29,330.12" fill="url(#g_lg)"/>
<polygon points="337.29,330.12 347.03,330.78 348.46,329.82 338.78,329.17" fill="#ACC28A" stroke="#809260" stroke-width="0.5"/>
<polygon points="368.58,360.54 369.85,359.36 371.81,282.67 370.53,283.31" fill="#97AC72" stroke="#78895B" stroke-width="0.4"/>
<polygon points="358.69,359.74 368.58,360.54 370.53,283.31 360.45,282.87" fill="url(#g_lg)"/>
<polygon points="360.45,282.87 370.53,283.31 371.81,282.67 361.81,282.24" fill="#ACC28A" stroke="#809260" stroke-width="0.5"/>
<polygon points="391.18,362.38 392.30,361.17 393.47,323.34 392.34,324.27" fill="#97AC72" stroke="#78895B" stroke-width="0.4"/>
<polygon points="381.07,361.56 391.18,362.38 392.34,324.27 382.13,323.63" fill="url(#g_lg)"/>
<polygon points="382.13,323.63 392.34,324.27 393.47,323.34 383.33,322.70" fill="#ACC28A" stroke="#809260" stroke-width="0.5"/>
<polygon points="414.29,364.26 415.26,363.02 417.71,295.00 416.75,295.74" fill="#97AC72" stroke="#78895B" stroke-width="0.4"/>
<polygon points="403.95,363.42 414.29,364.26 416.75,295.74 406.23,295.24" fill="url(#g_lg)"/>
<polygon points="406.23,295.24 416.75,295.74 417.71,295.00 407.26,294.50" fill="#ACC28A" stroke="#809260" stroke-width="0.5"/>
<polygon points="437.93,366.18 438.73,364.92 439.52,345.87 438.72,346.99" fill="#97AC72" stroke="#78895B" stroke-width="0.4"/>
<polygon points="427.35,365.32 437.93,366.18 438.72,346.99 428.09,346.23" fill="url(#g_lg)"/>
<polygon points="428.09,346.23 438.72,346.99 439.52,345.87 428.96,345.11" fill="#ACC28A" stroke="#809260" stroke-width="0.5"/>
<polygon points="462.11,368.15 462.74,366.86 465.12,316.22 464.50,317.14" fill="#97AC72" stroke="#78895B" stroke-width="0.4"/>
<polygon points="451.29,367.27 462.11,368.15 464.50,317.14 453.54,316.51" fill="url(#g_lg)"/>
<polygon points="453.54,316.51 464.50,317.14 465.12,316.22 454.23,315.60" fill="#ACC28A" stroke="#809260" stroke-width="0.5"/>
<polygon points="77.65,341.72 85.23,342.36 89.95,340.86 82.43,340.24" fill="#D8884A" opacity="0.7"/>
<polygon points="94.78,343.16 102.51,343.81 107.11,342.29 99.44,341.65" fill="#D8884A" opacity="0.7"/>
<polygon points="112.26,344.63 120.14,345.29 124.60,343.74 116.78,343.09" fill="#D8884A" opacity="0.7"/>
<polygon points="130.09,346.13 138.13,346.81 142.44,345.22 134.46,344.56" fill="#D8884A" opacity="0.7"/>
<polygon points="148.28,347.66 156.48,348.35 160.64,346.73 152.50,346.06" fill="#D8884A" opacity="0.7"/>
<polygon points="166.84,349.22 175.22,349.93 179.21,348.28 170.90,347.59" fill="#D8884A" opacity="0.7"/>
<polygon points="185.79,350.82 194.34,351.54 198.17,349.85 189.69,349.15" fill="#D8884A" opacity="0.7"/>
<polygon points="205.13,352.45 213.87,353.18 217.52,351.46 208.86,350.74" fill="#D8884A" opacity="0.7"/>
<polygon points="224.89,354.11 233.81,354.86 237.27,353.10 228.44,352.37" fill="#D8884A" opacity="0.7"/>
<polygon points="245.07,355.81 254.18,356.57 257.45,354.78 248.43,354.03" fill="#D8884A" opacity="0.7"/>
<polygon points="265.68,357.54 274.99,358.32 278.07,356.49 268.84,355.72" fill="#D8884A" opacity="0.7"/>
<polygon points="286.75,359.31 296.27,360.11 299.13,358.24 289.70,357.46" fill="#D8884A" opacity="0.7"/>
<polygon points="308.28,361.13 318.01,361.94 320.65,360.03 311.02,359.23" fill="#D8884A" opacity="0.7"/>
<polygon points="330.30,362.98 340.25,363.82 342.65,361.85 332.81,361.04" fill="#D8884A" opacity="0.7"/>
<polygon points="352.81,364.87 362.99,365.73 365.15,363.72 355.08,362.89" fill="#D8884A" opacity="0.7"/>
<polygon points="375.84,366.81 386.25,367.69 388.16,365.63 377.86,364.78" fill="#D8884A" opacity="0.7"/>
<polygon points="399.40,368.79 410.05,369.69 411.69,367.59 401.16,366.71" fill="#D8884A" opacity="0.7"/>
<polygon points="423.51,370.82 434.42,371.74 435.78,369.59 425.00,368.69" fill="#D8884A" opacity="0.7"/>
<polygon points="448.20,372.90 459.37,373.84 460.43,371.64 449.39,370.72" fill="#D8884A" opacity="0.7"/>
<line x1="67.78" y1="344.63" x2="63.98" y2="256.21" stroke="#222" stroke-width="1.5"/>
<line x1="64.28" y1="343.13" x2="67.78" y2="343.13" stroke="#222" stroke-width="1.5"/>
<line x1="63.34" y1="321.72" x2="66.84" y2="321.72" stroke="#222" stroke-width="1.5"/>
<line x1="62.40" y1="300.09" x2="65.90" y2="300.09" stroke="#222" stroke-width="1.5"/>
<line x1="61.44" y1="278.26" x2="64.94" y2="278.26" stroke="#222" stroke-width="1.5"/>
<line x1="60.48" y1="256.21" x2="63.98" y2="256.21" stroke="#222" stroke-width="1.5"/>
<polyline points="64.65,521.54 108.01,507.05 313.65,520.00" fill="none" stroke="#8a8a8a" stroke-width="1.1"/>
<polyline points="64.08,499.41 107.73,487.57 314.53,498.13" fill="none" stroke="#8a8a8a" stroke-width="1.1"/>
<polyline points="63.50,477.03 107.45,467.90 315.42,476.00" fill="none" stroke="#8a8a8a" stroke-width="1.1"/>
<polyline points="62.92,454.38 107.17,448.02 316.32,453.62" fill="none" stroke="#8a8a8a" stroke-width="1.1"/>
<polygon points="65.21,543.40 295.96,563.61 312.79,541.62 108.28,526.32" fill="#BDBDBD" stroke="#a0a0a0" stroke-width="0.6"/>
<polyline points="65.21,543.40 295.96,563.61" fill="none" stroke="#404040" stroke-width="1.8"/>
<line x1="106.55" y1="547.02" x2="106.55" y2="549.22" stroke="#222" stroke-width="1.4"/>
<line x1="150.10" y1="550.84" x2="150.10" y2="553.04" stroke="#222" stroke-width="1.4"/>
<line x1="196.05" y1="554.86" x2="196.05" y2="557.06" stroke="#222" stroke-width="1.4"/>
<line x1="244.59" y1="559.12" x2="244.59" y2="561.32" stroke="#222" stroke-width="1.4"/>
<line x1="295.96" y1="563.61" x2="295.96" y2="565.81" stroke="#222" stroke-width="1.4"/>
<polygon points="122.65,532.89 128.14,530.49 128.10,525.57 122.60,527.89" fill="#97AC72" stroke="#78895B" stroke-width="0.4"/>
<polygon points="107.51,531.71 122.65,532.89 122.60,527.89 107.44,526.75" fill="url(#g_lg)"/>
<polygon points="107.44,526.75 122.60,527.89 128.10,525.57 113.17,524.47" fill="#ACC28A" stroke="#809260" stroke-width="0.5"/>
<polygon points="162.20,535.98 167.08,533.46 167.11,510.88 162.21,512.98" fill="#97AC72" stroke="#78895B" stroke-width="0.4"/>
<polygon points="146.33,534.74 162.20,535.98 162.21,512.98 146.24,511.95" fill="url(#g_lg)"/>
<polygon points="146.24,511.95 162.21,512.98 167.11,510.88 151.39,509.89" fill="#ACC28A" stroke="#809260" stroke-width="0.5"/>
<polygon points="187.05,537.93 203.71,539.23 207.89,536.58 191.51,535.33" fill="#94AE78" opacity="0.8"/>
<polygon points="229.80,541.27 247.31,542.63 250.73,539.85 233.53,538.54" fill="#94AE78" opacity="0.8"/>
<polygon points="274.75,544.78 293.17,546.22 295.74,543.29 277.66,541.91" fill="#94AE78" opacity="0.8"/>
<polygon points="84.73,541.12 100.77,542.48 109.86,538.50 94.20,537.21" fill="#E0803A" opacity="0.9"/>
<polygon points="125.88,544.62 142.75,546.05 150.85,541.86 134.39,540.51" fill="#E0803A" opacity="0.9"/>
<polygon points="169.20,548.30 186.97,549.82 193.94,545.41 176.63,543.98" fill="#E0803A" opacity="0.9"/>
<polygon points="214.86,552.19 233.61,553.78 239.32,549.14 221.08,547.64" fill="#E0803A" opacity="0.9"/>
<polygon points="263.05,556.29 282.86,557.98 287.16,553.07 267.93,551.49" fill="#E0803A" opacity="0.9"/>
<line x1="65.21" y1="544.90" x2="62.92" y2="454.38" stroke="#222" stroke-width="1.5"/>
<line x1="61.71" y1="543.40" x2="65.21" y2="543.40" stroke="#222" stroke-width="1.5"/>
<line x1="61.15" y1="521.54" x2="64.65" y2="521.54" stroke="#222" stroke-width="1.5"/>
<line x1="60.58" y1="499.41" x2="64.08" y2="499.41" stroke="#222" stroke-width="1.5"/>
<line x1="60.00" y1="477.03" x2="63.50" y2="477.03" stroke="#222" stroke-width="1.5"/>
<line x1="59.42" y1="454.38" x2="62.92" y2="454.38" stroke="#222" stroke-width="1.5"/>
<text x="0.30" y="12.30" font-size="16.5" text-anchor="start" font-weight="bold" fill="#000" style="stroke-width:0.9px">A</text>
<text x="305.00" y="12.50" font-size="16.5" text-anchor="start" font-weight="bold" fill="#000" style="stroke-width:0.9px">B</text>
<text x="-0.50" y="241.50" font-size="16.5" text-anchor="start" font-weight="bold" fill="#000" style="stroke-width:0.9px">C</text>
<text x="-1.00" y="433.00" font-size="16.5" text-anchor="start" font-weight="bold" fill="#000" style="stroke-width:0.9px">D</text>
<text x="163.00" y="11.40" font-size="14" text-anchor="middle" font-weight="bold" fill="#000" style="stroke-width:0.5px">CD31</text>
<text x="466.50" y="15.00" font-size="14" text-anchor="middle" font-weight="bold" fill="#000" style="stroke-width:0.5px">vWF</text>
<text x="244.30" y="240.20" font-size="14" text-anchor="middle" font-weight="bold" fill="#000" style="stroke-width:0.5px">VE-Cadherin</text>
<text x="183.00" y="435.00" font-size="14" text-anchor="middle" font-weight="bold" fill="#000" style="stroke-width:0.5px">Tie2</text>
<text x="35.46" y="162.71" font-size="10" text-anchor="end" font-weight="bold" fill="#000">0</text>
<text x="34.88" y="139.10" font-size="10" text-anchor="end" font-weight="bold" fill="#000">25</text>
<text x="34.30" y="115.34" font-size="10" text-anchor="end" font-weight="bold" fill="#000">50</text>
<text x="33.71" y="91.44" font-size="10" text-anchor="end" font-weight="bold" fill="#000">75</text>
<text x="33.12" y="67.40" font-size="10" text-anchor="end" font-weight="bold" fill="#000">100</text>
<text x="344.49" y="174.58" font-size="10" text-anchor="end" font-weight="bold" fill="#000">0</text>
<text x="343.95" y="149.11" font-size="10" text-anchor="end" font-weight="bold" fill="#000">25</text>
<text x="343.40" y="123.42" font-size="10" text-anchor="end" font-weight="bold" fill="#000">50</text>
<text x="342.85" y="97.50" font-size="10" text-anchor="end" font-weight="bold" fill="#000">75</text>
<text x="342.30" y="71.36" font-size="10" text-anchor="end" font-weight="bold" fill="#000">100</text>
<text x="57.58" y="348.13" font-size="10" text-anchor="end" font-weight="bold" fill="#000">0</text>
<text x="56.64" y="326.72" font-size="10" text-anchor="end" font-weight="bold" fill="#000">25</text>
<text x="55.70" y="305.09" font-size="10" text-anchor="end" font-weight="bold" fill="#000">50</text>
<text x="54.74" y="283.26" font-size="10" text-anchor="end" font-weight="bold" fill="#000">75</text>
<text x="53.78" y="261.21" font-size="10" text-anchor="end" font-weight="bold" fill="#000">100</text>
<text x="55.81" y="548.40" font-size="10" text-anchor="end" font-weight="bold" fill="#000">0</text>
<text x="55.25" y="526.54" font-size="10" text-anchor="end" font-weight="bold" fill="#000">25</text>
<text x="54.68" y="504.41" font-size="10" text-anchor="end" font-weight="bold" fill="#000">50</text>
<text x="54.10" y="482.03" font-size="10" text-anchor="end" font-weight="bold" fill="#000">75</text>
<text x="53.52" y="459.38" font-size="10" text-anchor="end" font-weight="bold" fill="#000">100</text>
<text x="9.30" y="113.20" font-size="10.4" text-anchor="middle" font-weight="bold" fill="#000" transform="rotate(-90 9.30 113.20)">% Methylation</text>
<text x="313.50" y="107.50" font-size="10.4" text-anchor="middle" font-weight="bold" fill="#000" transform="rotate(-90 313.50 107.50)">% Methylation</text>
<text x="28.30" y="319.80" font-size="11.4" text-anchor="middle" font-weight="bold" fill="#000" transform="rotate(-90 28.30 319.80)">% Methylation</text>
<text x="27.20" y="497.00" font-size="11.3" text-anchor="middle" font-weight="bold" fill="#000" transform="rotate(-90 27.20 497.00)">% Methylation</text>
<text x="103.00" y="206.50" font-size="10.6" text-anchor="middle" font-weight="bold" fill="#000">CpG position</text>
<text x="402.50" y="211.50" font-size="10.5" text-anchor="middle" font-weight="bold" fill="#000">CpG position</text>
<text x="208.50" y="396.00" font-size="10.5" text-anchor="middle" font-weight="bold" fill="#000">CpG position</text>
<text x="149.00" y="591.50" font-size="10.9" text-anchor="middle" font-weight="bold" fill="#000">CpG position</text>
<text x="58.00" y="175.50" font-size="8.5" text-anchor="middle" font-weight="bold" fill="#000">+153</text>
<text x="81.00" y="178.50" font-size="8.5" text-anchor="middle" font-weight="bold" fill="#000">+176</text>
<text x="105.50" y="181.00" font-size="8.5" text-anchor="middle" font-weight="bold" fill="#000">+231</text>
<text x="130.50" y="184.00" font-size="8.5" text-anchor="middle" font-weight="bold" fill="#000">+235</text>
<text x="156.00" y="188.00" font-size="8.5" text-anchor="middle" font-weight="bold" fill="#000">+237</text>
<text x="181.00" y="190.50" font-size="8.5" text-anchor="middle" font-weight="bold" fill="#000">+241</text>
<text x="208.00" y="194.00" font-size="8.5" text-anchor="middle" font-weight="bold" fill="#000">+261</text>
<text x="368.00" y="188.00" font-size="8.5" text-anchor="middle" font-weight="bold" fill="#000">+114</text>
<text x="394.50" y="191.75" font-size="8.5" text-anchor="middle" font-weight="bold" fill="#000">+174</text>
<text x="421.00" y="194.00" font-size="8.5" text-anchor="middle" font-weight="bold" fill="#000">+222</text>
<text x="449.00" y="198.00" font-size="8.5" text-anchor="middle" font-weight="bold" fill="#000">+336</text>
<text x="87.00" y="561.00" font-size="8.5" text-anchor="middle" font-weight="bold" fill="#000">-260</text>
<text x="128.00" y="564.25" font-size="8.5" text-anchor="middle" font-weight="bold" fill="#000">-213</text>
<text x="172.50" y="568.00" font-size="8.5" text-anchor="middle" font-weight="bold" fill="#000">-152</text>
<text x="222.50" y="573.00" font-size="8.5" text-anchor="middle" font-weight="bold" fill="#000">-104</text>
<text x="269.50" y="576.75" font-size="8.5" text-anchor="middle" font-weight="bold" fill="#000">-64</text>
<text x="79.94" y="356.06" font-size="8.8" text-anchor="end" font-weight="bold" fill="#000" transform="rotate(-45 79.94 356.06)">-209</text>
<text x="97.31" y="357.54" font-size="8.8" text-anchor="end" font-weight="bold" fill="#000" transform="rotate(-45 97.31 357.54)">-203</text>
<text x="115.04" y="359.06" font-size="8.8" text-anchor="end" font-weight="bold" fill="#000" transform="rotate(-45 115.04 359.06)">-194</text>
<text x="133.13" y="360.60" font-size="8.8" text-anchor="end" font-weight="bold" fill="#000" transform="rotate(-45 133.13 360.60)">-187</text>
<text x="151.60" y="362.18" font-size="8.8" text-anchor="end" font-weight="bold" fill="#000" transform="rotate(-45 151.60 362.18)">-63</text>
<text x="170.44" y="363.79" font-size="8.8" text-anchor="end" font-weight="bold" fill="#000" transform="rotate(-45 170.44 363.79)">-57</text>
<text x="189.69" y="365.43" font-size="8.8" text-anchor="end" font-weight="bold" fill="#000" transform="rotate(-45 189.69 365.43)">-33</text>
<text x="209.35" y="367.11" font-size="8.8" text-anchor="end" font-weight="bold" fill="#000" transform="rotate(-45 209.35 367.11)">-29</text>
<text x="229.42" y="368.83" font-size="8.8" text-anchor="end" font-weight="bold" fill="#000" transform="rotate(-45 229.42 368.83)">+2</text>
<text x="249.94" y="370.58" font-size="8.8" text-anchor="end" font-weight="bold" fill="#000" transform="rotate(-45 249.94 370.58)">+16</text>
<text x="270.91" y="372.37" font-size="8.8" text-anchor="end" font-weight="bold" fill="#000" transform="rotate(-45 270.91 372.37)">+32</text>
<text x="292.34" y="374.21" font-size="8.8" text-anchor="end" font-weight="bold" fill="#000" transform="rotate(-45 292.34 374.21)">+63</text>
<text x="314.26" y="376.08" font-size="8.8" text-anchor="end" font-weight="bold" fill="#000" transform="rotate(-45 314.26 376.08)">+103</text>
<text x="336.67" y="377.99" font-size="8.8" text-anchor="end" font-weight="bold" fill="#000" transform="rotate(-45 336.67 377.99)">+113</text>
<text x="359.61" y="379.95" font-size="8.8" text-anchor="end" font-weight="bold" fill="#000" transform="rotate(-45 359.61 379.95)">+161</text>
<text x="383.07" y="381.96" font-size="8.8" text-anchor="end" font-weight="bold" fill="#000" transform="rotate(-45 383.07 381.96)">+191</text>
<text x="407.09" y="384.01" font-size="8.8" text-anchor="end" font-weight="bold" fill="#000" transform="rotate(-45 407.09 384.01)">+198</text>
<text x="431.68" y="386.11" font-size="8.8" text-anchor="end" font-weight="bold" fill="#000" transform="rotate(-45 431.68 386.11)">+211</text>
<text x="456.87" y="388.26" font-size="8.8" text-anchor="end" font-weight="bold" fill="#000" transform="rotate(-45 456.87 388.26)">+229</text>
<rect x="409" y="435.90" width="10.8" height="10.8" fill="#F79646" stroke="#111" stroke-width="1.6"/>
<text x="427.00" y="445.75" font-size="12.5" text-anchor="start" font-weight="bold" fill="#000">HUVEC</text>
<rect x="409" y="463.10" width="10.8" height="10.8" fill="#FFFF00" stroke="#111" stroke-width="1.6"/>
<text x="427.00" y="473.50" font-size="12.5" text-anchor="start" font-weight="bold" fill="#000">HMVEC</text>
<rect x="409" y="493.00" width="10.8" height="10.8" fill="#F26B6B" stroke="#111" stroke-width="1.6"/>
<text x="427.00" y="501.70" font-size="12.5" text-anchor="start" font-weight="bold" fill="#000">BOEC</text>
<rect x="409" y="518.50" width="10.8" height="10.8" fill="#D7E4BD" stroke="#111" stroke-width="1.6"/>
<text x="427.00" y="530.00" font-size="12.5" text-anchor="start" font-weight="bold" fill="#000">HuAoVSMC</text>
<rect x="409" y="550.80" width="10.8" height="10.8" fill="#77933C" stroke="#111" stroke-width="1.6"/>
<text x="427.00" y="557.70" font-size="12.5" text-anchor="start" font-weight="bold" fill="#000">HuSVVSMC</text>
<rect x="409" y="576.10" width="10.8" height="10.8" fill="#4F81BD" stroke="#111" stroke-width="1.6"/>
<text x="427.00" y="586.20" font-size="12.5" text-anchor="start" font-weight="bold" fill="#000">Keratinocyte</text>
<rect x="409" y="603.10" width="10.8" height="10.8" fill="#8064A2" stroke="#111" stroke-width="1.6"/>
<text x="427.00" y="613.90" font-size="12.5" text-anchor="start" font-weight="bold" fill="#000">Hepatocyte</text>
</svg></body></html>
